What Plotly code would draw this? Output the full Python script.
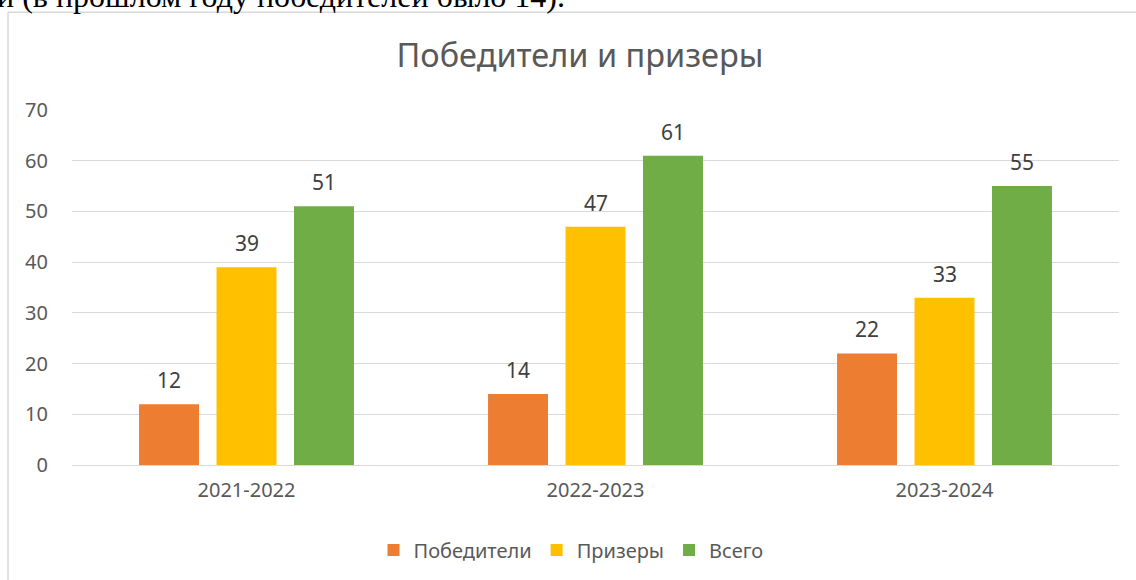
import plotly.graph_objects as go

categories = ["2021-2022", "2022-2023", "2023-2024"]
winners = [12, 14, 22]
prizers = [39, 47, 33]
total = [51, 61, 55]
series_names = ["Победители", "Призеры", "Всего"]
colors = ["#ED7D31", "#FFC000", "#70AD47"]
y_ticks = [0, 10, 20, 30, 40, 50, 60, 70]

FONT = "Noto Sans"
series = [winners, prizers, total]

fig = go.Figure()
for name, vals, col in zip(series_names, series, colors):
    fig.add_trace(go.Bar(x=categories, y=vals, name=name, marker_color=col,
                         marker_line_width=0))

# data labels above bars
slot = 77.5
for i, vals in enumerate(series):
    for c, v in zip(categories, vals):
        fig.add_annotation(x=c, y=v, text=str(v), showarrow=False,
                           xshift=(i - 1) * slot, yanchor="bottom", yshift=8,
                           font=dict(family=FONT, size=21, color="#404040"))

# cut-off document text at top
fig.add_annotation(x=-0.0735, xref="paper", y=1.3208, yref="paper",
                   xanchor="left", yanchor="middle", showarrow=False,
                   text="и (в прошлом году победителей было 14).",
                   font=dict(family="Liberation Serif", size=32, color="#000000"))

# chart frame (left and top border)
fig.add_shape(type="line", xref="paper", yref="paper",
              x0=-0.0611, x1=-0.0611, y0=1.2753, y1=-0.4,
              line=dict(color="#D9D9D9", width=1.5))
fig.add_shape(type="line", xref="paper", yref="paper",
              x0=-0.0611, x1=1.1, y0=1.2753, y1=1.2753,
              line=dict(color="#D9D9D9", width=1.5))

fig.update_layout(
    width=1136, height=580,
    margin=dict(l=72, r=17, t=110, b=114),
    paper_bgcolor="white", plot_bgcolor="white",
    barmode="group", bargap=0.334, bargroupgap=0.226,
    title=dict(text="Победители и призеры", x=580 / 1136, xanchor="center",
               y=1 - 56 / 580, yanchor="middle",
               font=dict(family=FONT, size=32.5, color="#595959")),
    font=dict(family=FONT, size=20, color="#595959"),
    showlegend=True,
    legend=dict(orientation="h", x=0.4766, xanchor="center", y=-0.236,
                yanchor="middle", font=dict(family=FONT, size=20, color="#595959"),
                itemsizing="constant"),
    xaxis=dict(showgrid=False, showline=True, linecolor="#D9D9D9", linewidth=1,
               ticks="", tickfont=dict(size=20, color="#595959"),
               ticklabelstandoff=7),
    yaxis=dict(range=[0, 70], tickvals=y_ticks, showgrid=True,
               gridcolor="#D9D9D9", gridwidth=1, zeroline=False,
               showline=False, ticks="", tickfont=dict(size=20, color="#595959"),
               ticklabelstandoff=23),
)

fig.write_html("out.html")
